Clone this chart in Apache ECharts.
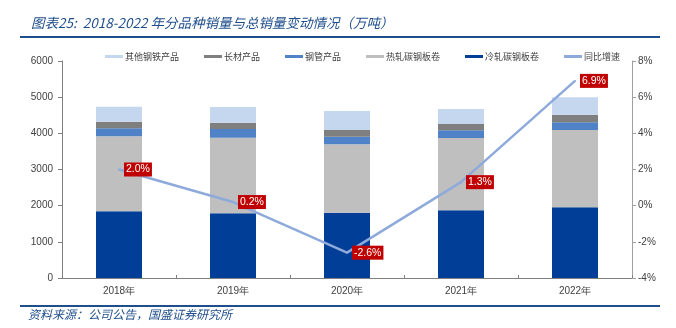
<!DOCTYPE html>
<html>
<head>
<meta charset="utf-8">
<script src="https://cdn.jsdelivr.net/npm/echarts@6/dist/echarts.min.js"></script>
<style>
  html, body { margin: 0; padding: 0; background: #fff; }
  #chart { width: 676px; height: 328px; }
</style>
</head>
<body>
<div id="chart"></div>
<script>
// 年份
const years = ['2018年', '2019年', '2020年', '2021年', '2022年'];
// 各品种销量（万吨）
const coldRolled = [1844, 1789, 1805, 1872, 1955];   // 冷轧碳钢板卷
const hotRolled = [2074, 2090, 1891, 1999, 2137];    // 热轧碳钢板卷
const steelPipe = [221, 241, 211, 212, 213];         // 钢管产品
const longProducts = [182, 174, 185, 175, 210];      // 长材产品
const otherSteel = [415, 434, 525, 414, 481];        // 其他钢铁产品
// 总销量同比增速（%）
const yoyGrowth = [2.0, 0.2, -2.6, 1.3, 6.9];

const cjk = '"Noto Sans CJK SC", "Noto Sans", sans-serif';
const latin = '"Liberation Sans", Arial, sans-serif';
const titleBlue = '#1f4e8c';
const lineBlue = '#8eaadb';

const chart = echarts.init(document.getElementById('chart'));

function barSeries(name, data, color) {
  return {
    name: name,
    type: 'bar',
    stack: 'total',
    barWidth: 46,
    data: data,
    itemStyle: { color: color },
    emphasis: { disabled: true }
  };
}

chart.setOption({
  animation: false,
  backgroundColor: '#fff',
  title: {
    text: '图表25:  2018-2022 年分品种销量与总销量变动情况（万吨）',
    left: 26,
    top: 11,
    textStyle: {
      fontFamily: cjk,
      fontSize: 13.5,
      fontStyle: 'italic',
      fontWeight: 'normal',
      color: titleBlue
    }
  },
  graphic: [
    { type: 'rect', shape: { x: 20, y: 36, width: 640, height: 2 }, style: { fill: titleBlue } },
    { type: 'rect', shape: { x: 20, y: 305, width: 640, height: 2 }, style: { fill: titleBlue } },
    {
      type: 'text', left: 28, top: 308,
      style: {
        text: '资料来源：公司公告，国盛证券研究所',
        font: 'italic 12px ' + cjk,
        fill: titleBlue
      }
    }
  ],
  legend: {
    left: 100,
    top: 47,
    itemWidth: 18,
    itemHeight: 3,
    itemGap: 25,
    icon: 'rect',
    textStyle: { fontFamily: cjk, fontSize: 9, color: '#404040', padding: [0, 0, 0, -3] },
    data: ['其他钢铁产品', '长材产品', '钢管产品', '热轧碳钢板卷', '冷轧碳钢板卷', '同比增速']
  },
  grid: { left: 62, right: 44, top: 61, bottom: 50 },
  xAxis: {
    type: 'category',
    data: years,
    axisLine: { lineStyle: { color: '#808080', width: 1 } },
    axisTick: { show: true, inside: true, length: 3, lineStyle: { color: '#808080' } },
    axisLabel: { fontFamily: latin, fontSize: 10, color: '#404040', margin: 8 }
  },
  yAxis: [
    {
      type: 'value',
      min: 0, max: 6000, interval: 1000,
      axisLine: { show: true, lineStyle: { color: '#808080' } },
      axisTick: { show: true, length: 4, lineStyle: { color: '#808080' } },
      splitLine: { show: false },
      axisLabel: { fontFamily: latin, fontSize: 10, color: '#404040', margin: 9, formatter: (v) => String(v) }
    },
    {
      type: 'value',
      min: -4, max: 8, interval: 2,
      position: 'right',
      axisLine: { show: true, lineStyle: { color: '#a0a0a0' } },
      axisTick: { show: true, length: 4, lineStyle: { color: '#a0a0a0' } },
      splitLine: { show: false },
      axisLabel: { fontFamily: latin, fontSize: 10, color: '#404040', margin: 6, formatter: '{value}%' }
    }
  ],
  series: [
    barSeries('冷轧碳钢板卷', coldRolled, '#003e97'),
    barSeries('热轧碳钢板卷', hotRolled, '#bfbfbf'),
    barSeries('钢管产品', steelPipe, '#4f82c6'),
    barSeries('长材产品', longProducts, '#7f7f7f'),
    barSeries('其他钢铁产品', otherSteel, '#c5d7ef'),
    {
      name: '同比增速',
      type: 'line',
      yAxisIndex: 1,
      data: yoyGrowth,
      symbol: 'circle',
      symbolSize: 2,
      showSymbol: true,
      z: 5,
      lineStyle: { color: lineBlue, width: 2.5 },
      itemStyle: { color: lineBlue, borderWidth: 0 },
      emphasis: { disabled: true },
      labelLayout: { hideOverlap: false },
      label: {
        show: true,
        position: 'right',
        distance: 4,
        formatter: (p) => p.value.toFixed(1) + '%',
        fontFamily: latin,
        fontSize: 10.5,
        color: '#fff',
        backgroundColor: '#c00000',
        padding: [2, 2, 1, 2]
      }
    }
  ]
});
</script>
</body>
</html>
